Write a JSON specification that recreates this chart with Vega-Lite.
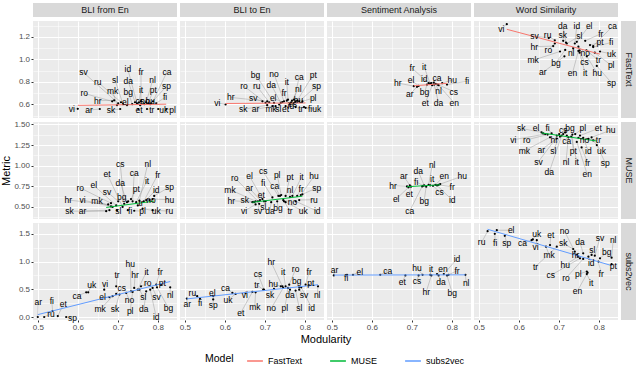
{
"$schema":"https://vega.github.io/schema/vega-lite/v6.json",
"padding":{"left":0,"top":3,"right":1,"bottom":1},
"background":"white",
"config":{
"font":"Liberation Sans",
"view":{"fill":"#ebebeb","stroke":null},
"axis":{"labelColor":"#4d4d4d","labelFontSize":8,"tickColor":"#333333","tickSize":2,"domain":false,"gridColor":"white","titleFontWeight":"normal","titleFontSize":11,"titleColor":"black","labelPadding":1.5,"titlePadding":2},
"legend":{"direction":"horizontal","titleOrient":"left","symbolType":"stroke","symbolStrokeWidth":1.5,"symbolSize":250,"labelFontSize":9,"titleFontSize":10.5,"titleFontWeight":"normal","titleColor":"black","labelColor":"black","columnPadding":24,"titlePadding":12}
},
"datasets":{
"ft":[
{"t":"F","l":"vi","x":0.600,"y":0.562,"lx":0.585,"ly":0.557},
{"t":"F","l":"ar","x":0.655,"y":0.560,"lx":0.628,"ly":0.550},
{"t":"F","l":"sk","x":0.706,"y":0.560,"lx":0.683,"ly":0.551},
{"t":"F","l":"hr","x":0.691,"y":0.637,"lx":0.650,"ly":0.634},
{"t":"F","l":"ro","x":0.686,"y":0.628,"lx":0.616,"ly":0.699},
{"t":"F","l":"sv","x":0.701,"y":0.611,"lx":0.614,"ly":0.885},
{"t":"F","l":"ru","x":0.708,"y":0.620,"lx":0.650,"ly":0.800},
{"t":"F","l":"mk","x":0.698,"y":0.594,"lx":0.687,"ly":0.720},
{"t":"F","l":"sl","x":0.713,"y":0.603,"lx":0.693,"ly":0.819},
{"t":"F","l":"el","x":0.723,"y":0.594,"lx":0.719,"ly":0.620},
{"t":"F","l":"bg","x":0.736,"y":0.603,"lx":0.726,"ly":0.714},
{"t":"F","l":"da","x":0.743,"y":0.620,"lx":0.726,"ly":0.808},
{"t":"F","l":"id","x":0.748,"y":0.611,"lx":0.725,"ly":0.914},
{"t":"F","l":"it","x":0.753,"y":0.620,"lx":0.758,"ly":0.729},
{"t":"F","l":"fr","x":0.758,"y":0.628,"lx":0.758,"ly":0.885},
{"t":"F","l":"et","x":0.751,"y":0.560,"lx":0.753,"ly":0.547},
{"t":"F","l":"cs","x":0.756,"y":0.594,"lx":0.755,"ly":0.634},
{"t":"F","l":"no","x":0.766,"y":0.603,"lx":0.768,"ly":0.634},
{"t":"F","l":"nl","x":0.771,"y":0.620,"lx":0.787,"ly":0.814},
{"t":"F","l":"pt","x":0.776,"y":0.611,"lx":0.789,"ly":0.729},
{"t":"F","l":"hu","x":0.781,"y":0.603,"lx":0.781,"ly":0.634},
{"t":"F","l":"tr","x":0.773,"y":0.560,"lx":0.785,"ly":0.551},
{"t":"F","l":"fi","x":0.796,"y":0.611,"lx":0.818,"ly":0.663},
{"t":"F","l":"ca","x":0.788,"y":0.628,"lx":0.823,"ly":0.891},
{"t":"F","l":"sp","x":0.783,"y":0.611,"lx":0.822,"ly":0.763},
{"t":"F","l":"uk","x":0.801,"y":0.560,"lx":0.815,"ly":0.551},
{"t":"F","l":"pl","x":0.821,"y":0.560,"lx":0.837,"ly":0.551},
{"t":"T","l":"vi","x":0.602,"y":0.600,"lx":0.581,"ly":0.614},
{"t":"T","l":"hr","x":0.706,"y":0.628,"lx":0.615,"ly":0.663},
{"t":"T","l":"sv","x":0.694,"y":0.628,"lx":0.671,"ly":0.657},
{"t":"T","l":"ro","x":0.702,"y":0.614,"lx":0.648,"ly":0.763},
{"t":"T","l":"ru","x":0.711,"y":0.620,"lx":0.680,"ly":0.763},
{"t":"T","l":"bg","x":0.723,"y":0.614,"lx":0.677,"ly":0.866},
{"t":"T","l":"sk","x":0.706,"y":0.594,"lx":0.646,"ly":0.557},
{"t":"T","l":"ar","x":0.719,"y":0.585,"lx":0.677,"ly":0.557},
{"t":"T","l":"mk","x":0.727,"y":0.585,"lx":0.716,"ly":0.557},
{"t":"T","l":"sl","x":0.736,"y":0.600,"lx":0.734,"ly":0.557},
{"t":"T","l":"da","x":0.740,"y":0.614,"lx":0.716,"ly":0.777},
{"t":"T","l":"el","x":0.744,"y":0.622,"lx":0.721,"ly":0.657},
{"t":"T","l":"no","x":0.748,"y":0.628,"lx":0.723,"ly":0.871},
{"t":"T","l":"et","x":0.752,"y":0.585,"lx":0.752,"ly":0.557},
{"t":"T","l":"fr","x":0.755,"y":0.634,"lx":0.748,"ly":0.699},
{"t":"T","l":"it","x":0.758,"y":0.643,"lx":0.755,"ly":0.800},
{"t":"T","l":"id","x":0.763,"y":0.605,"lx":0.765,"ly":0.585},
{"t":"T","l":"cs","x":0.766,"y":0.620,"lx":0.770,"ly":0.600},
{"t":"T","l":"nl","x":0.768,"y":0.634,"lx":0.784,"ly":0.737},
{"t":"T","l":"ca","x":0.773,"y":0.643,"lx":0.786,"ly":0.843},
{"t":"T","l":"hu","x":0.777,"y":0.628,"lx":0.784,"ly":0.637},
{"t":"T","l":"pt","x":0.781,"y":0.634,"lx":0.821,"ly":0.866},
{"t":"T","l":"sp","x":0.786,"y":0.628,"lx":0.829,"ly":0.763},
{"t":"T","l":"tr","x":0.777,"y":0.577,"lx":0.790,"ly":0.557},
{"t":"T","l":"pl","x":0.794,"y":0.628,"lx":0.821,"ly":0.657},
{"t":"T","l":"fi","x":0.798,"y":0.577,"lx":0.813,"ly":0.557},
{"t":"T","l":"uk","x":0.802,"y":0.571,"lx":0.830,"ly":0.557},
{"t":"S","l":"hr","x":0.705,"y":0.763,"lx":0.665,"ly":0.791},
{"t":"S","l":"ar","x":0.713,"y":0.757,"lx":0.695,"ly":0.691},
{"t":"S","l":"el","x":0.717,"y":0.765,"lx":0.698,"ly":0.819},
{"t":"S","l":"bg","x":0.738,"y":0.777,"lx":0.732,"ly":0.708},
{"t":"S","l":"fr","x":0.742,"y":0.789,"lx":0.701,"ly":0.922},
{"t":"S","l":"it","x":0.746,"y":0.785,"lx":0.731,"ly":0.934},
{"t":"S","l":"id","x":0.749,"y":0.791,"lx":0.731,"ly":0.823},
{"t":"S","l":"et","x":0.751,"y":0.771,"lx":0.734,"ly":0.614},
{"t":"S","l":"ca","x":0.755,"y":0.794,"lx":0.763,"ly":0.837},
{"t":"S","l":"da","x":0.756,"y":0.777,"lx":0.767,"ly":0.614},
{"t":"S","l":"nl","x":0.760,"y":0.783,"lx":0.767,"ly":0.720},
{"t":"S","l":"cs","x":0.765,"y":0.777,"lx":0.805,"ly":0.714},
{"t":"S","l":"en","x":0.767,"y":0.771,"lx":0.806,"ly":0.614},
{"t":"S","l":"hu","x":0.776,"y":0.789,"lx":0.801,"ly":0.819},
{"t":"S","l":"fi","x":0.788,"y":0.777,"lx":0.838,"ly":0.806},
{"t":"W","l":"vi","x":0.570,"y":1.314,"lx":0.556,"ly":1.271},
{"t":"W","l":"sv","x":0.675,"y":1.190,"lx":0.639,"ly":1.208},
{"t":"W","l":"ru","x":0.690,"y":1.170,"lx":0.672,"ly":1.214},
{"t":"W","l":"hr","x":0.686,"y":1.119,"lx":0.639,"ly":1.114},
{"t":"W","l":"ro","x":0.690,"y":1.142,"lx":0.674,"ly":1.085},
{"t":"W","l":"sk","x":0.711,"y":1.166,"lx":0.710,"ly":1.222},
{"t":"W","l":"da","x":0.718,"y":1.150,"lx":0.710,"ly":1.299},
{"t":"W","l":"sl","x":0.720,"y":1.142,"lx":0.751,"ly":1.205},
{"t":"W","l":"mk","x":0.703,"y":1.071,"lx":0.636,"ly":0.994},
{"t":"W","l":"bg","x":0.716,"y":1.085,"lx":0.693,"ly":0.971},
{"t":"W","l":"ar","x":0.714,"y":1.028,"lx":0.660,"ly":0.885},
{"t":"W","l":"id","x":0.740,"y":1.142,"lx":0.745,"ly":1.299},
{"t":"W","l":"el","x":0.745,"y":1.157,"lx":0.776,"ly":1.299},
{"t":"W","l":"nl","x":0.736,"y":1.100,"lx":0.731,"ly":1.057},
{"t":"W","l":"no","x":0.749,"y":1.114,"lx":0.766,"ly":1.057},
{"t":"W","l":"cs","x":0.752,"y":1.080,"lx":0.764,"ly":0.977},
{"t":"W","l":"en","x":0.749,"y":1.076,"lx":0.734,"ly":0.877},
{"t":"W","l":"it","x":0.752,"y":1.060,"lx":0.766,"ly":0.877},
{"t":"W","l":"fr","x":0.766,"y":1.166,"lx":0.805,"ly":1.228},
{"t":"W","l":"pt","x":0.778,"y":1.128,"lx":0.803,"ly":1.151},
{"t":"W","l":"tr","x":0.769,"y":1.080,"lx":0.799,"ly":0.994},
{"t":"W","l":"hu","x":0.770,"y":1.028,"lx":0.796,"ly":0.877},
{"t":"W","l":"ca","x":0.786,"y":1.119,"lx":0.834,"ly":1.294},
{"t":"W","l":"fi","x":0.786,"y":1.110,"lx":0.831,"ly":1.151},
{"t":"W","l":"uk","x":0.803,"y":1.071,"lx":0.832,"ly":1.048},
{"t":"W","l":"pl","x":0.790,"y":1.060,"lx":0.831,"ly":0.948},
{"t":"W","l":"sp","x":0.795,"y":0.943,"lx":0.832,"ly":0.791}
],
"mu":[
{"t":"F","l":"sk","x":0.671,"y":0.449,"lx":0.579,"ly":0.449},
{"t":"F","l":"ar","x":0.679,"y":0.461,"lx":0.612,"ly":0.449},
{"t":"F","l":"hr","x":0.676,"y":0.530,"lx":0.576,"ly":0.584},
{"t":"F","l":"vi","x":0.683,"y":0.507,"lx":0.612,"ly":0.584},
{"t":"F","l":"mk","x":0.687,"y":0.500,"lx":0.648,"ly":0.569},
{"t":"F","l":"ro","x":0.683,"y":0.546,"lx":0.606,"ly":0.731},
{"t":"F","l":"el","x":0.696,"y":0.518,"lx":0.640,"ly":0.761},
{"t":"F","l":"sv","x":0.701,"y":0.569,"lx":0.673,"ly":0.685},
{"t":"F","l":"sl","x":0.698,"y":0.461,"lx":0.701,"ly":0.449},
{"t":"F","l":"cs","x":0.716,"y":0.538,"lx":0.706,"ly":1.026},
{"t":"F","l":"et","x":0.712,"y":0.500,"lx":0.673,"ly":0.904},
{"t":"F","l":"da","x":0.723,"y":0.558,"lx":0.706,"ly":0.795},
{"t":"F","l":"bg","x":0.726,"y":0.569,"lx":0.710,"ly":0.622},
{"t":"F","l":"fi","x":0.725,"y":0.461,"lx":0.731,"ly":0.449},
{"t":"F","l":"pt","x":0.733,"y":0.596,"lx":0.746,"ly":0.719},
{"t":"F","l":"ca","x":0.737,"y":0.569,"lx":0.741,"ly":0.911},
{"t":"F","l":"pl","x":0.741,"y":0.454,"lx":0.762,"ly":0.449},
{"t":"F","l":"it","x":0.746,"y":0.558,"lx":0.773,"ly":0.815},
{"t":"F","l":"tr","x":0.750,"y":0.518,"lx":0.758,"ly":0.546},
{"t":"F","l":"nl","x":0.754,"y":0.577,"lx":0.775,"ly":1.026},
{"t":"F","l":"uk","x":0.762,"y":0.480,"lx":0.796,"ly":0.449},
{"t":"F","l":"fr","x":0.765,"y":0.569,"lx":0.800,"ly":0.892},
{"t":"F","l":"id","x":0.771,"y":0.584,"lx":0.796,"ly":0.711},
{"t":"F","l":"no","x":0.779,"y":0.584,"lx":0.783,"ly":0.584},
{"t":"F","l":"hu","x":0.787,"y":0.596,"lx":0.829,"ly":0.588},
{"t":"F","l":"sp","x":0.791,"y":0.634,"lx":0.829,"ly":0.742},
{"t":"F","l":"ru","x":0.787,"y":0.461,"lx":0.829,"ly":0.449},
{"t":"T","l":"hr","x":0.669,"y":0.558,"lx":0.616,"ly":0.577},
{"t":"T","l":"sk","x":0.673,"y":0.558,"lx":0.650,"ly":0.588},
{"t":"T","l":"mk","x":0.677,"y":0.569,"lx":0.613,"ly":0.711},
{"t":"T","l":"vi","x":0.677,"y":0.530,"lx":0.648,"ly":0.449},
{"t":"T","l":"sv","x":0.686,"y":0.538,"lx":0.683,"ly":0.449},
{"t":"T","l":"ro","x":0.683,"y":0.569,"lx":0.625,"ly":0.853},
{"t":"T","l":"ar","x":0.688,"y":0.584,"lx":0.661,"ly":0.731},
{"t":"T","l":"el","x":0.694,"y":0.596,"lx":0.662,"ly":0.873},
{"t":"T","l":"et","x":0.698,"y":0.569,"lx":0.691,"ly":0.645},
{"t":"T","l":"sl","x":0.702,"y":0.569,"lx":0.696,"ly":0.500},
{"t":"T","l":"da","x":0.716,"y":0.558,"lx":0.713,"ly":0.454},
{"t":"T","l":"fi","x":0.719,"y":0.615,"lx":0.696,"ly":0.795},
{"t":"T","l":"bg","x":0.731,"y":0.569,"lx":0.733,"ly":0.488},
{"t":"T","l":"cs","x":0.734,"y":0.634,"lx":0.696,"ly":0.930},
{"t":"T","l":"ca","x":0.738,"y":0.634,"lx":0.725,"ly":0.749},
{"t":"T","l":"pl","x":0.741,"y":0.645,"lx":0.731,"ly":0.892},
{"t":"T","l":"no","x":0.746,"y":0.584,"lx":0.769,"ly":0.558},
{"t":"T","l":"tr","x":0.748,"y":0.569,"lx":0.763,"ly":0.449},
{"t":"T","l":"uk","x":0.752,"y":0.558,"lx":0.796,"ly":0.449},
{"t":"T","l":"pt","x":0.752,"y":0.634,"lx":0.763,"ly":0.865},
{"t":"T","l":"nl","x":0.763,"y":0.622,"lx":0.763,"ly":0.700},
{"t":"T","l":"it","x":0.769,"y":0.634,"lx":0.792,"ly":0.865},
{"t":"T","l":"fr","x":0.781,"y":0.634,"lx":0.791,"ly":0.719},
{"t":"T","l":"id","x":0.777,"y":0.569,"lx":0.831,"ly":0.449},
{"t":"T","l":"ru","x":0.786,"y":0.584,"lx":0.823,"ly":0.588},
{"t":"T","l":"hu","x":0.790,"y":0.645,"lx":0.823,"ly":0.873},
{"t":"T","l":"sp","x":0.794,"y":0.653,"lx":0.830,"ly":0.731},
{"t":"S","l":"hr","x":0.688,"y":0.749,"lx":0.653,"ly":0.757},
{"t":"S","l":"el","x":0.692,"y":0.738,"lx":0.661,"ly":0.596},
{"t":"S","l":"ar","x":0.695,"y":0.761,"lx":0.680,"ly":0.873},
{"t":"S","l":"et","x":0.698,"y":0.746,"lx":0.694,"ly":0.661},
{"t":"S","l":"ca","x":0.726,"y":0.749,"lx":0.695,"ly":0.454},
{"t":"S","l":"fi","x":0.728,"y":0.757,"lx":0.711,"ly":0.807},
{"t":"S","l":"da","x":0.731,"y":0.761,"lx":0.716,"ly":0.934},
{"t":"S","l":"bg","x":0.736,"y":0.746,"lx":0.731,"ly":0.577},
{"t":"S","l":"nl","x":0.742,"y":0.769,"lx":0.751,"ly":1.008},
{"t":"S","l":"it","x":0.746,"y":0.761,"lx":0.751,"ly":0.834},
{"t":"S","l":"cs","x":0.753,"y":0.757,"lx":0.769,"ly":0.685},
{"t":"S","l":"en","x":0.759,"y":0.769,"lx":0.781,"ly":0.873},
{"t":"S","l":"id","x":0.763,"y":0.761,"lx":0.801,"ly":0.584},
{"t":"S","l":"fr","x":0.767,"y":0.769,"lx":0.801,"ly":0.742},
{"t":"S","l":"hu","x":0.771,"y":0.777,"lx":0.826,"ly":0.873},
{"t":"W","l":"sk","x":0.657,"y":1.403,"lx":0.606,"ly":1.453},
{"t":"W","l":"el","x":0.661,"y":1.392,"lx":0.643,"ly":1.453},
{"t":"W","l":"vi","x":0.666,"y":1.384,"lx":0.586,"ly":1.314},
{"t":"W","l":"ro","x":0.672,"y":1.377,"lx":0.620,"ly":1.314},
{"t":"W","l":"fi","x":0.682,"y":1.392,"lx":0.672,"ly":1.453},
{"t":"W","l":"mk","x":0.678,"y":1.345,"lx":0.614,"ly":1.180},
{"t":"W","l":"hr","x":0.695,"y":1.365,"lx":0.689,"ly":1.314},
{"t":"W","l":"ar","x":0.695,"y":1.330,"lx":0.656,"ly":1.192},
{"t":"W","l":"sv","x":0.701,"y":1.384,"lx":0.649,"ly":1.049},
{"t":"W","l":"sl","x":0.703,"y":1.354,"lx":0.686,"ly":1.184},
{"t":"W","l":"da","x":0.707,"y":1.365,"lx":0.676,"ly":0.922},
{"t":"W","l":"bg","x":0.711,"y":1.384,"lx":0.728,"ly":1.461},
{"t":"W","l":"cs","x":0.716,"y":1.403,"lx":0.711,"ly":1.430},
{"t":"W","l":"ca","x":0.720,"y":1.365,"lx":0.720,"ly":1.299},
{"t":"W","l":"nl","x":0.724,"y":1.345,"lx":0.718,"ly":1.046},
{"t":"W","l":"it","x":0.731,"y":1.354,"lx":0.745,"ly":1.046},
{"t":"W","l":"pt","x":0.734,"y":1.377,"lx":0.736,"ly":1.180},
{"t":"W","l":"pl","x":0.741,"y":1.384,"lx":0.760,"ly":1.453},
{"t":"W","l":"en","x":0.745,"y":1.288,"lx":0.771,"ly":0.896},
{"t":"W","l":"et","x":0.753,"y":1.365,"lx":0.799,"ly":1.453},
{"t":"W","l":"no","x":0.749,"y":1.338,"lx":0.764,"ly":1.314},
{"t":"W","l":"id","x":0.761,"y":1.338,"lx":0.774,"ly":1.180},
{"t":"W","l":"fr","x":0.757,"y":1.222,"lx":0.772,"ly":1.038},
{"t":"W","l":"tr","x":0.774,"y":1.326,"lx":0.799,"ly":1.314},
{"t":"W","l":"hu","x":0.782,"y":1.345,"lx":0.830,"ly":1.430},
{"t":"W","l":"uk","x":0.786,"y":1.307,"lx":0.807,"ly":1.180},
{"t":"W","l":"sp","x":0.795,"y":1.250,"lx":0.816,"ly":1.038}
],
"sv":[
{"t":"F","l":"ar","x":0.500,"y":0.000,"lx":0.501,"ly":0.274},
{"t":"F","l":"ru","x":0.516,"y":0.000,"lx":0.533,"ly":0.059},
{"t":"F","l":"fi","x":0.537,"y":0.107,"lx":0.535,"ly":0.286},
{"t":"F","l":"et","x":0.550,"y":0.018,"lx":0.564,"ly":0.226},
{"t":"F","l":"sp","x":0.571,"y":0.000,"lx":0.587,"ly":-0.013},
{"t":"F","l":"ca","x":0.621,"y":0.446,"lx":0.598,"ly":0.375},
{"t":"F","l":"uk","x":0.626,"y":0.446,"lx":0.635,"ly":0.583},
{"t":"F","l":"vi","x":0.666,"y":0.494,"lx":0.668,"ly":0.595},
{"t":"F","l":"el","x":0.679,"y":0.357,"lx":0.662,"ly":0.357},
{"t":"F","l":"mk","x":0.687,"y":0.375,"lx":0.656,"ly":0.137},
{"t":"F","l":"tr","x":0.696,"y":0.554,"lx":0.698,"ly":0.762},
{"t":"F","l":"cs","x":0.696,"y":0.417,"lx":0.710,"ly":0.524},
{"t":"F","l":"sk","x":0.704,"y":0.405,"lx":0.693,"ly":0.137},
{"t":"F","l":"no","x":0.721,"y":0.435,"lx":0.729,"ly":0.304},
{"t":"F","l":"hu","x":0.733,"y":0.464,"lx":0.731,"ly":0.952},
{"t":"F","l":"pl","x":0.737,"y":0.452,"lx":0.731,"ly":0.107},
{"t":"F","l":"hr","x":0.741,"y":0.524,"lx":0.743,"ly":0.750},
{"t":"F","l":"it","x":0.750,"y":0.494,"lx":0.772,"ly":0.821},
{"t":"F","l":"ro","x":0.758,"y":0.554,"lx":0.775,"ly":0.613},
{"t":"F","l":"sl","x":0.754,"y":0.494,"lx":0.764,"ly":0.363},
{"t":"F","l":"da","x":0.771,"y":0.464,"lx":0.765,"ly":0.137},
{"t":"F","l":"id","x":0.781,"y":0.494,"lx":0.796,"ly":0.000},
{"t":"F","l":"sv","x":0.787,"y":0.524,"lx":0.797,"ly":0.363},
{"t":"F","l":"fr","x":0.796,"y":0.583,"lx":0.806,"ly":0.821},
{"t":"F","l":"bg","x":0.798,"y":0.536,"lx":0.827,"ly":0.155},
{"t":"F","l":"pt","x":0.808,"y":0.583,"lx":0.811,"ly":0.613},
{"t":"F","l":"nl","x":0.831,"y":0.536,"lx":0.831,"ly":0.393},
{"t":"T","l":"ar","x":0.505,"y":0.333,"lx":0.506,"ly":0.226},
{"t":"T","l":"fi","x":0.538,"y":0.333,"lx":0.538,"ly":0.256},
{"t":"T","l":"ru","x":0.531,"y":0.375,"lx":0.519,"ly":0.435},
{"t":"T","l":"el","x":0.571,"y":0.375,"lx":0.569,"ly":0.435},
{"t":"T","l":"sp","x":0.571,"y":0.316,"lx":0.571,"ly":0.214},
{"t":"T","l":"ca","x":0.619,"y":0.435,"lx":0.602,"ly":0.524},
{"t":"T","l":"uk","x":0.627,"y":0.417,"lx":0.608,"ly":0.304},
{"t":"T","l":"vi","x":0.652,"y":0.435,"lx":0.650,"ly":0.393},
{"t":"T","l":"et","x":0.669,"y":0.452,"lx":0.640,"ly":0.077},
{"t":"T","l":"mk","x":0.677,"y":0.446,"lx":0.675,"ly":0.184},
{"t":"T","l":"tr","x":0.696,"y":0.494,"lx":0.680,"ly":0.583},
{"t":"T","l":"cs","x":0.698,"y":0.494,"lx":0.683,"ly":0.774},
{"t":"T","l":"sk","x":0.723,"y":0.506,"lx":0.713,"ly":0.393},
{"t":"T","l":"hu","x":0.740,"y":0.554,"lx":0.721,"ly":0.601},
{"t":"T","l":"hr","x":0.744,"y":0.554,"lx":0.716,"ly":0.988},
{"t":"T","l":"no","x":0.746,"y":0.524,"lx":0.716,"ly":0.155},
{"t":"T","l":"it","x":0.752,"y":0.554,"lx":0.746,"ly":0.821},
{"t":"T","l":"pl","x":0.758,"y":0.524,"lx":0.750,"ly":0.167},
{"t":"T","l":"da","x":0.763,"y":0.494,"lx":0.763,"ly":0.393},
{"t":"T","l":"ro","x":0.761,"y":0.583,"lx":0.777,"ly":0.863},
{"t":"T","l":"sl","x":0.777,"y":0.476,"lx":0.786,"ly":0.167},
{"t":"T","l":"bg","x":0.786,"y":0.536,"lx":0.780,"ly":0.655},
{"t":"T","l":"id","x":0.791,"y":0.536,"lx":0.817,"ly":0.167},
{"t":"T","l":"sv","x":0.786,"y":0.494,"lx":0.798,"ly":0.393},
{"t":"T","l":"fr","x":0.802,"y":0.583,"lx":0.811,"ly":0.821},
{"t":"T","l":"pt","x":0.810,"y":0.571,"lx":0.815,"ly":0.613},
{"t":"T","l":"nl","x":0.833,"y":0.554,"lx":0.831,"ly":0.393},
{"t":"S","l":"ar","x":0.505,"y":0.750,"lx":0.507,"ly":0.852},
{"t":"S","l":"fi","x":0.538,"y":0.762,"lx":0.536,"ly":0.700},
{"t":"S","l":"el","x":0.553,"y":0.762,"lx":0.570,"ly":0.821},
{"t":"S","l":"ca","x":0.621,"y":0.762,"lx":0.640,"ly":0.833},
{"t":"S","l":"et","x":0.684,"y":0.750,"lx":0.676,"ly":0.631},
{"t":"S","l":"cs","x":0.717,"y":0.750,"lx":0.713,"ly":0.655},
{"t":"S","l":"hu","x":0.727,"y":0.762,"lx":0.713,"ly":0.881},
{"t":"S","l":"it","x":0.746,"y":0.762,"lx":0.748,"ly":0.869},
{"t":"S","l":"hr","x":0.749,"y":0.750,"lx":0.736,"ly":0.452},
{"t":"S","l":"en","x":0.763,"y":0.774,"lx":0.778,"ly":0.869},
{"t":"S","l":"da","x":0.767,"y":0.750,"lx":0.773,"ly":0.631},
{"t":"S","l":"id","x":0.780,"y":0.774,"lx":0.813,"ly":1.048},
{"t":"S","l":"bg","x":0.788,"y":0.750,"lx":0.801,"ly":0.435},
{"t":"S","l":"fr","x":0.792,"y":0.762,"lx":0.813,"ly":0.833},
{"t":"S","l":"nl","x":0.834,"y":0.762,"lx":0.836,"ly":0.613},
{"t":"W","l":"ru","x":0.522,"y":1.548,"lx":0.507,"ly":1.345},
{"t":"W","l":"el","x":0.545,"y":1.566,"lx":0.581,"ly":1.566},
{"t":"W","l":"fi","x":0.540,"y":1.500,"lx":0.541,"ly":1.327},
{"t":"W","l":"sp","x":0.565,"y":1.464,"lx":0.570,"ly":1.327},
{"t":"W","l":"ca","x":0.632,"y":1.387,"lx":0.609,"ly":1.327},
{"t":"W","l":"uk","x":0.635,"y":1.400,"lx":0.645,"ly":1.495},
{"t":"W","l":"vi","x":0.645,"y":1.387,"lx":0.642,"ly":1.268},
{"t":"W","l":"et","x":0.678,"y":1.298,"lx":0.680,"ly":1.477},
{"t":"W","l":"mk","x":0.668,"y":1.268,"lx":0.676,"ly":1.120},
{"t":"W","l":"tr","x":0.695,"y":1.268,"lx":0.642,"ly":0.911},
{"t":"W","l":"no","x":0.740,"y":1.179,"lx":0.714,"ly":1.554},
{"t":"W","l":"sk","x":0.736,"y":1.227,"lx":0.711,"ly":1.327},
{"t":"W","l":"da","x":0.761,"y":1.148,"lx":0.753,"ly":1.345},
{"t":"W","l":"hr","x":0.745,"y":1.120,"lx":0.742,"ly":1.120},
{"t":"W","l":"hu","x":0.749,"y":1.089,"lx":0.716,"ly":0.941},
{"t":"W","l":"cs","x":0.753,"y":1.059,"lx":0.680,"ly":0.750},
{"t":"W","l":"ro","x":0.761,"y":1.048,"lx":0.718,"ly":0.702},
{"t":"W","l":"pl","x":0.770,"y":0.821,"lx":0.749,"ly":0.774},
{"t":"W","l":"it","x":0.770,"y":0.774,"lx":0.781,"ly":0.613},
{"t":"W","l":"en","x":0.772,"y":0.800,"lx":0.747,"ly":0.476},
{"t":"W","l":"id","x":0.774,"y":1.089,"lx":0.781,"ly":0.982},
{"t":"W","l":"sl","x":0.782,"y":1.120,"lx":0.784,"ly":1.209},
{"t":"W","l":"sv","x":0.790,"y":1.107,"lx":0.803,"ly":1.429},
{"t":"W","l":"fr","x":0.799,"y":1.000,"lx":0.806,"ly":0.774},
{"t":"W","l":"bg","x":0.803,"y":1.059,"lx":0.820,"ly":1.166},
{"t":"W","l":"nl","x":0.832,"y":1.071,"lx":0.836,"ly":1.387},
{"t":"W","l":"pt","x":0.832,"y":0.952,"lx":0.836,"ly":0.929}
]
},
"columns":5,
"spacing":{"row":4,"column":3},
"bounds":"flush",
"resolve":{"scale":{"x":"independent","y":"independent","color":"shared"}},
"concat":[
{"width":144,"height":14,"view":{"fill":"#d9d9d9","stroke":null},"data":{"values":[{"s":"BLI from En"}]},"mark":{"type":"text","fontSize":9,"color":"#1a1a1a"},"encoding":{"text":{"field":"s"}}},
{"width":144,"height":14,"view":{"fill":"#d9d9d9","stroke":null},"data":{"values":[{"s":"BLI to En"}]},"mark":{"type":"text","fontSize":9,"color":"#1a1a1a"},"encoding":{"text":{"field":"s"}}},
{"width":144,"height":14,"view":{"fill":"#d9d9d9","stroke":null},"data":{"values":[{"s":"Sentiment Analysis"}]},"mark":{"type":"text","fontSize":9,"color":"#1a1a1a"},"encoding":{"text":{"field":"s"}}},
{"width":144,"height":14,"view":{"fill":"#d9d9d9","stroke":null},"data":{"values":[{"s":"Word Similarity"}]},"mark":{"type":"text","fontSize":9,"color":"#1a1a1a"},"encoding":{"text":{"field":"s"}}},
{"width":15,"height":14,"view":{"fill":"white","stroke":null},"data":{"values":[{"s":""}]},"mark":{"type":"text"},"encoding":{"text":{"field":"s"}}},

{"data":{"name":"ft"},"transform":[{"filter":"datum.t=='F'"}],"width":144,"height":97,
"encoding":{"x":{"field":"x","type":"quantitative","title":null,"scale":{"domain":[0.488,0.848],"nice":false,"zero":false},"axis":{"values":[0.5,0.55,0.6,0.65,0.7,0.75,0.8],"labels":false,"ticks":false,"gridWidth":{"condition":{"test":"round(datum.value*100)%10 != 0","value":0.5},"value":1}}},
"y":{"field":"y","type":"quantitative","title":null,"scale":{"domain":[0.48,1.342],"nice":false,"zero":false},"axis":{"values":[0.5,0.6,0.7,0.8,0.9,1.0,1.1,1.2,1.3],"labelExpr":"round(datum.value*10)%2 != 0 ? '' : format(datum.value,'.1f')","tickOpacity":{"condition":{"test":"round(datum.value*10)%2 != 0","value":0},"value":1},"gridWidth":{"condition":{"test":"round(datum.value*10)%2 != 0","value":0.5},"value":1}}}},
"layer":[
{"mark":{"type":"rule","color":"#8c8c8c","strokeWidth":0.4},"encoding":{"x2":{"field":"lx"},"y2":{"field":"ly"}}},
{"mark":{"type":"point","filled":true,"size":5,"color":"black","opacity":1}},
{"transform":[{"regression":"y","on":"x"}],"mark":{"type":"line","strokeWidth":1},"encoding":{"color":{"datum":"FastText","type":"nominal","title":"Model","scale":{"domain":["FastText","MUSE","subs2vec"],"range":["#F8766D","#00BA38","#619CFF"]},"legend":{"orient":"none","legendX":172,"legendY":349}}}},
{"mark":{"type":"text","fontSize":8.5,"color":"black"},"encoding":{"x":{"field":"lx","type":"quantitative","title":null},"y":{"field":"ly","type":"quantitative","title":null},"text":{"field":"l"}}}]},
{"data":{"name":"ft"},"transform":[{"filter":"datum.t=='T'"}],"width":144,"height":97,
"encoding":{"x":{"field":"x","type":"quantitative","title":null,"scale":{"domain":[0.488,0.848],"nice":false,"zero":false},"axis":{"values":[0.5,0.55,0.6,0.65,0.7,0.75,0.8],"labels":false,"ticks":false,"gridWidth":{"condition":{"test":"round(datum.value*100)%10 != 0","value":0.5},"value":1}}},
"y":{"field":"y","type":"quantitative","title":null,"scale":{"domain":[0.48,1.342],"nice":false,"zero":false},"axis":{"values":[0.5,0.6,0.7,0.8,0.9,1.0,1.1,1.2,1.3],"labels":false,"ticks":false,"gridWidth":{"condition":{"test":"round(datum.value*10)%2 != 0","value":0.5},"value":1}}}},
"layer":[
{"mark":{"type":"rule","color":"#8c8c8c","strokeWidth":0.4},"encoding":{"x2":{"field":"lx"},"y2":{"field":"ly"}}},
{"mark":{"type":"point","filled":true,"size":5,"color":"black","opacity":1}},
{"transform":[{"regression":"y","on":"x"}],"mark":{"type":"line","strokeWidth":1},"encoding":{"color":{"datum":"FastText","type":"nominal","title":"Model","scale":{"domain":["FastText","MUSE","subs2vec"],"range":["#F8766D","#00BA38","#619CFF"]},"legend":{"orient":"none","legendX":172,"legendY":349}}}},
{"mark":{"type":"text","fontSize":8.5,"color":"black"},"encoding":{"x":{"field":"lx","type":"quantitative","title":null},"y":{"field":"ly","type":"quantitative","title":null},"text":{"field":"l"}}}]},
{"data":{"name":"ft"},"transform":[{"filter":"datum.t=='S'"}],"width":144,"height":97,
"encoding":{"x":{"field":"x","type":"quantitative","title":null,"scale":{"domain":[0.488,0.848],"nice":false,"zero":false},"axis":{"values":[0.5,0.55,0.6,0.65,0.7,0.75,0.8],"labels":false,"ticks":false,"gridWidth":{"condition":{"test":"round(datum.value*100)%10 != 0","value":0.5},"value":1}}},
"y":{"field":"y","type":"quantitative","title":null,"scale":{"domain":[0.48,1.342],"nice":false,"zero":false},"axis":{"values":[0.5,0.6,0.7,0.8,0.9,1.0,1.1,1.2,1.3],"labels":false,"ticks":false,"gridWidth":{"condition":{"test":"round(datum.value*10)%2 != 0","value":0.5},"value":1}}}},
"layer":[
{"mark":{"type":"rule","color":"#8c8c8c","strokeWidth":0.4},"encoding":{"x2":{"field":"lx"},"y2":{"field":"ly"}}},
{"mark":{"type":"point","filled":true,"size":5,"color":"black","opacity":1}},
{"transform":[{"regression":"y","on":"x"}],"mark":{"type":"line","strokeWidth":1},"encoding":{"color":{"datum":"FastText","type":"nominal","title":"Model","scale":{"domain":["FastText","MUSE","subs2vec"],"range":["#F8766D","#00BA38","#619CFF"]},"legend":{"orient":"none","legendX":172,"legendY":349}}}},
{"mark":{"type":"text","fontSize":8.5,"color":"black"},"encoding":{"x":{"field":"lx","type":"quantitative","title":null},"y":{"field":"ly","type":"quantitative","title":null},"text":{"field":"l"}}}]},
{"data":{"name":"ft"},"transform":[{"filter":"datum.t=='W'"}],"width":144,"height":97,
"encoding":{"x":{"field":"x","type":"quantitative","title":null,"scale":{"domain":[0.488,0.848],"nice":false,"zero":false},"axis":{"values":[0.5,0.55,0.6,0.65,0.7,0.75,0.8],"labels":false,"ticks":false,"gridWidth":{"condition":{"test":"round(datum.value*100)%10 != 0","value":0.5},"value":1}}},
"y":{"field":"y","type":"quantitative","title":null,"scale":{"domain":[0.48,1.342],"nice":false,"zero":false},"axis":{"values":[0.5,0.6,0.7,0.8,0.9,1.0,1.1,1.2,1.3],"labels":false,"ticks":false,"gridWidth":{"condition":{"test":"round(datum.value*10)%2 != 0","value":0.5},"value":1}}}},
"layer":[
{"mark":{"type":"rule","color":"#8c8c8c","strokeWidth":0.4},"encoding":{"x2":{"field":"lx"},"y2":{"field":"ly"}}},
{"mark":{"type":"point","filled":true,"size":5,"color":"black","opacity":1}},
{"transform":[{"regression":"y","on":"x"}],"mark":{"type":"line","strokeWidth":1},"encoding":{"color":{"datum":"FastText","type":"nominal","title":"Model","scale":{"domain":["FastText","MUSE","subs2vec"],"range":["#F8766D","#00BA38","#619CFF"]},"legend":{"orient":"none","legendX":172,"legendY":349}}}},
{"mark":{"type":"text","fontSize":8.5,"color":"black"},"encoding":{"x":{"field":"lx","type":"quantitative","title":null},"y":{"field":"ly","type":"quantitative","title":null},"text":{"field":"l"}}}]},
{"width":15,"height":97,"view":{"fill":"#d9d9d9","stroke":null},"data":{"values":[{"s":"FastText"}]},"mark":{"type":"text","angle":90,"fontSize":9,"color":"#1a1a1a"},"encoding":{"text":{"field":"s"}}},

{"data":{"name":"mu"},"transform":[{"filter":"datum.t=='F'"}],"width":144,"height":97,
"encoding":{"x":{"field":"x","type":"quantitative","title":null,"scale":{"domain":[0.488,0.848],"nice":false,"zero":false},"axis":{"values":[0.5,0.55,0.6,0.65,0.7,0.75,0.8],"labels":false,"ticks":false,"gridWidth":{"condition":{"test":"round(datum.value*100)%10 != 0","value":0.5},"value":1}}},
"y":{"field":"y","type":"quantitative","title":"Metric","scale":{"domain":[0.354,1.53],"nice":false,"zero":false},"axis":{"values":[0.375,0.5,0.625,0.75,0.875,1.0,1.125,1.25,1.375,1.5],"labelExpr":"round(datum.value*8)%2 != 0 ? '' : format(datum.value,'.2f')","tickOpacity":{"condition":{"test":"round(datum.value*8)%2 != 0","value":0},"value":1},"gridWidth":{"condition":{"test":"round(datum.value*8)%2 != 0","value":0.5},"value":1}}}},
"layer":[
{"mark":{"type":"rule","color":"#8c8c8c","strokeWidth":0.4},"encoding":{"x2":{"field":"lx"},"y2":{"field":"ly"}}},
{"mark":{"type":"point","filled":true,"size":5,"color":"black","opacity":1}},
{"transform":[{"regression":"y","on":"x"}],"mark":{"type":"line","strokeWidth":1},"encoding":{"color":{"datum":"MUSE","type":"nominal","title":"Model","scale":{"domain":["FastText","MUSE","subs2vec"],"range":["#F8766D","#00BA38","#619CFF"]},"legend":{"orient":"none","legendX":172,"legendY":349}}}},
{"mark":{"type":"text","fontSize":8.5,"color":"black"},"encoding":{"x":{"field":"lx","type":"quantitative","title":null},"y":{"field":"ly","type":"quantitative","title":"Metric"},"text":{"field":"l"}}}]},
{"data":{"name":"mu"},"transform":[{"filter":"datum.t=='T'"}],"width":144,"height":97,
"encoding":{"x":{"field":"x","type":"quantitative","title":null,"scale":{"domain":[0.488,0.848],"nice":false,"zero":false},"axis":{"values":[0.5,0.55,0.6,0.65,0.7,0.75,0.8],"labels":false,"ticks":false,"gridWidth":{"condition":{"test":"round(datum.value*100)%10 != 0","value":0.5},"value":1}}},
"y":{"field":"y","type":"quantitative","title":null,"scale":{"domain":[0.354,1.53],"nice":false,"zero":false},"axis":{"values":[0.375,0.5,0.625,0.75,0.875,1.0,1.125,1.25,1.375,1.5],"labels":false,"ticks":false,"gridWidth":{"condition":{"test":"round(datum.value*8)%2 != 0","value":0.5},"value":1}}}},
"layer":[
{"mark":{"type":"rule","color":"#8c8c8c","strokeWidth":0.4},"encoding":{"x2":{"field":"lx"},"y2":{"field":"ly"}}},
{"mark":{"type":"point","filled":true,"size":5,"color":"black","opacity":1}},
{"transform":[{"regression":"y","on":"x"}],"mark":{"type":"line","strokeWidth":1},"encoding":{"color":{"datum":"MUSE","type":"nominal","title":"Model","scale":{"domain":["FastText","MUSE","subs2vec"],"range":["#F8766D","#00BA38","#619CFF"]},"legend":{"orient":"none","legendX":172,"legendY":349}}}},
{"mark":{"type":"text","fontSize":8.5,"color":"black"},"encoding":{"x":{"field":"lx","type":"quantitative","title":null},"y":{"field":"ly","type":"quantitative","title":null},"text":{"field":"l"}}}]},
{"data":{"name":"mu"},"transform":[{"filter":"datum.t=='S'"}],"width":144,"height":97,
"encoding":{"x":{"field":"x","type":"quantitative","title":null,"scale":{"domain":[0.488,0.848],"nice":false,"zero":false},"axis":{"values":[0.5,0.55,0.6,0.65,0.7,0.75,0.8],"labels":false,"ticks":false,"gridWidth":{"condition":{"test":"round(datum.value*100)%10 != 0","value":0.5},"value":1}}},
"y":{"field":"y","type":"quantitative","title":null,"scale":{"domain":[0.354,1.53],"nice":false,"zero":false},"axis":{"values":[0.375,0.5,0.625,0.75,0.875,1.0,1.125,1.25,1.375,1.5],"labels":false,"ticks":false,"gridWidth":{"condition":{"test":"round(datum.value*8)%2 != 0","value":0.5},"value":1}}}},
"layer":[
{"mark":{"type":"rule","color":"#8c8c8c","strokeWidth":0.4},"encoding":{"x2":{"field":"lx"},"y2":{"field":"ly"}}},
{"mark":{"type":"point","filled":true,"size":5,"color":"black","opacity":1}},
{"transform":[{"regression":"y","on":"x"}],"mark":{"type":"line","strokeWidth":1},"encoding":{"color":{"datum":"MUSE","type":"nominal","title":"Model","scale":{"domain":["FastText","MUSE","subs2vec"],"range":["#F8766D","#00BA38","#619CFF"]},"legend":{"orient":"none","legendX":172,"legendY":349}}}},
{"mark":{"type":"text","fontSize":8.5,"color":"black"},"encoding":{"x":{"field":"lx","type":"quantitative","title":null},"y":{"field":"ly","type":"quantitative","title":null},"text":{"field":"l"}}}]},
{"data":{"name":"mu"},"transform":[{"filter":"datum.t=='W'"}],"width":144,"height":97,
"encoding":{"x":{"field":"x","type":"quantitative","title":null,"scale":{"domain":[0.488,0.848],"nice":false,"zero":false},"axis":{"values":[0.5,0.55,0.6,0.65,0.7,0.75,0.8],"labels":false,"ticks":false,"gridWidth":{"condition":{"test":"round(datum.value*100)%10 != 0","value":0.5},"value":1}}},
"y":{"field":"y","type":"quantitative","title":null,"scale":{"domain":[0.354,1.53],"nice":false,"zero":false},"axis":{"values":[0.375,0.5,0.625,0.75,0.875,1.0,1.125,1.25,1.375,1.5],"labels":false,"ticks":false,"gridWidth":{"condition":{"test":"round(datum.value*8)%2 != 0","value":0.5},"value":1}}}},
"layer":[
{"mark":{"type":"rule","color":"#8c8c8c","strokeWidth":0.4},"encoding":{"x2":{"field":"lx"},"y2":{"field":"ly"}}},
{"mark":{"type":"point","filled":true,"size":5,"color":"black","opacity":1}},
{"transform":[{"regression":"y","on":"x"}],"mark":{"type":"line","strokeWidth":1},"encoding":{"color":{"datum":"MUSE","type":"nominal","title":"Model","scale":{"domain":["FastText","MUSE","subs2vec"],"range":["#F8766D","#00BA38","#619CFF"]},"legend":{"orient":"none","legendX":172,"legendY":349}}}},
{"mark":{"type":"text","fontSize":8.5,"color":"black"},"encoding":{"x":{"field":"lx","type":"quantitative","title":null},"y":{"field":"ly","type":"quantitative","title":null},"text":{"field":"l"}}}]},
{"width":15,"height":97,"view":{"fill":"#d9d9d9","stroke":null},"data":{"values":[{"s":"MUSE"}]},"mark":{"type":"text","angle":90,"fontSize":9,"color":"#1a1a1a"},"encoding":{"text":{"field":"s"}}},

{"data":{"name":"sv"},"transform":[{"filter":"datum.t=='F'"}],"width":144,"height":97,
"encoding":{"x":{"field":"x","type":"quantitative","title":null,"scale":{"domain":[0.488,0.848],"nice":false,"zero":false},"axis":{"values":[0.5,0.55,0.6,0.65,0.7,0.75,0.8],"labelExpr":"round(datum.value*100)%10 != 0 ? '' : format(datum.value,'.1f')","tickOpacity":{"condition":{"test":"round(datum.value*100)%10 != 0","value":0},"value":1},"gridWidth":{"condition":{"test":"round(datum.value*100)%10 != 0","value":0.5},"value":1}}},
"y":{"field":"y","type":"quantitative","title":null,"scale":{"domain":[-0.054,1.696],"nice":false,"zero":false},"axis":{"values":[0,0.25,0.5,0.75,1.0,1.25,1.5],"labelExpr":"round(datum.value*4)%2 != 0 ? '' : format(datum.value,'.1f')","tickOpacity":{"condition":{"test":"round(datum.value*4)%2 != 0","value":0},"value":1},"gridWidth":{"condition":{"test":"round(datum.value*4)%2 != 0","value":0.5},"value":1}}}},
"layer":[
{"mark":{"type":"rule","color":"#8c8c8c","strokeWidth":0.4},"encoding":{"x2":{"field":"lx"},"y2":{"field":"ly"}}},
{"mark":{"type":"point","filled":true,"size":5,"color":"black","opacity":1}},
{"transform":[{"regression":"y","on":"x"}],"mark":{"type":"line","strokeWidth":1},"encoding":{"color":{"datum":"subs2vec","type":"nominal","title":"Model","scale":{"domain":["FastText","MUSE","subs2vec"],"range":["#F8766D","#00BA38","#619CFF"]},"legend":{"orient":"none","legendX":172,"legendY":349}}}},
{"mark":{"type":"text","fontSize":8.5,"color":"black"},"encoding":{"x":{"field":"lx","type":"quantitative","title":null},"y":{"field":"ly","type":"quantitative","title":null},"text":{"field":"l"}}}]},
{"data":{"name":"sv"},"transform":[{"filter":"datum.t=='T'"}],"width":144,"height":97,
"encoding":{"x":{"field":"x","type":"quantitative","title":"Modularity","scale":{"domain":[0.488,0.848],"nice":false,"zero":false},"axis":{"titleX":145.5,"values":[0.5,0.55,0.6,0.65,0.7,0.75,0.8],"labelExpr":"round(datum.value*100)%10 != 0 ? '' : format(datum.value,'.1f')","tickOpacity":{"condition":{"test":"round(datum.value*100)%10 != 0","value":0},"value":1},"gridWidth":{"condition":{"test":"round(datum.value*100)%10 != 0","value":0.5},"value":1}}},
"y":{"field":"y","type":"quantitative","title":null,"scale":{"domain":[-0.054,1.696],"nice":false,"zero":false},"axis":{"values":[0,0.25,0.5,0.75,1.0,1.25,1.5],"labels":false,"ticks":false,"gridWidth":{"condition":{"test":"round(datum.value*4)%2 != 0","value":0.5},"value":1}}}},
"layer":[
{"mark":{"type":"rule","color":"#8c8c8c","strokeWidth":0.4},"encoding":{"x2":{"field":"lx"},"y2":{"field":"ly"}}},
{"mark":{"type":"point","filled":true,"size":5,"color":"black","opacity":1}},
{"transform":[{"regression":"y","on":"x"}],"mark":{"type":"line","strokeWidth":1},"encoding":{"color":{"datum":"subs2vec","type":"nominal","title":"Model","scale":{"domain":["FastText","MUSE","subs2vec"],"range":["#F8766D","#00BA38","#619CFF"]},"legend":{"orient":"none","legendX":172,"legendY":349}}}},
{"mark":{"type":"text","fontSize":8.5,"color":"black"},"encoding":{"x":{"field":"lx","type":"quantitative","title":"Modularity"},"y":{"field":"ly","type":"quantitative","title":null},"text":{"field":"l"}}}]},
{"data":{"name":"sv"},"transform":[{"filter":"datum.t=='S'"}],"width":144,"height":97,
"encoding":{"x":{"field":"x","type":"quantitative","title":null,"scale":{"domain":[0.488,0.848],"nice":false,"zero":false},"axis":{"values":[0.5,0.55,0.6,0.65,0.7,0.75,0.8],"labelExpr":"round(datum.value*100)%10 != 0 ? '' : format(datum.value,'.1f')","tickOpacity":{"condition":{"test":"round(datum.value*100)%10 != 0","value":0},"value":1},"gridWidth":{"condition":{"test":"round(datum.value*100)%10 != 0","value":0.5},"value":1}}},
"y":{"field":"y","type":"quantitative","title":null,"scale":{"domain":[-0.054,1.696],"nice":false,"zero":false},"axis":{"values":[0,0.25,0.5,0.75,1.0,1.25,1.5],"labels":false,"ticks":false,"gridWidth":{"condition":{"test":"round(datum.value*4)%2 != 0","value":0.5},"value":1}}}},
"layer":[
{"mark":{"type":"rule","color":"#8c8c8c","strokeWidth":0.4},"encoding":{"x2":{"field":"lx"},"y2":{"field":"ly"}}},
{"mark":{"type":"point","filled":true,"size":5,"color":"black","opacity":1}},
{"transform":[{"regression":"y","on":"x"}],"mark":{"type":"line","strokeWidth":1},"encoding":{"color":{"datum":"subs2vec","type":"nominal","title":"Model","scale":{"domain":["FastText","MUSE","subs2vec"],"range":["#F8766D","#00BA38","#619CFF"]},"legend":{"orient":"none","legendX":172,"legendY":349}}}},
{"mark":{"type":"text","fontSize":8.5,"color":"black"},"encoding":{"x":{"field":"lx","type":"quantitative","title":null},"y":{"field":"ly","type":"quantitative","title":null},"text":{"field":"l"}}}]},
{"data":{"name":"sv"},"transform":[{"filter":"datum.t=='W'"}],"width":144,"height":97,
"encoding":{"x":{"field":"x","type":"quantitative","title":null,"scale":{"domain":[0.488,0.848],"nice":false,"zero":false},"axis":{"values":[0.5,0.55,0.6,0.65,0.7,0.75,0.8],"labelExpr":"round(datum.value*100)%10 != 0 ? '' : format(datum.value,'.1f')","tickOpacity":{"condition":{"test":"round(datum.value*100)%10 != 0","value":0},"value":1},"gridWidth":{"condition":{"test":"round(datum.value*100)%10 != 0","value":0.5},"value":1}}},
"y":{"field":"y","type":"quantitative","title":null,"scale":{"domain":[-0.054,1.696],"nice":false,"zero":false},"axis":{"values":[0,0.25,0.5,0.75,1.0,1.25,1.5],"labels":false,"ticks":false,"gridWidth":{"condition":{"test":"round(datum.value*4)%2 != 0","value":0.5},"value":1}}}},
"layer":[
{"mark":{"type":"rule","color":"#8c8c8c","strokeWidth":0.4},"encoding":{"x2":{"field":"lx"},"y2":{"field":"ly"}}},
{"mark":{"type":"point","filled":true,"size":5,"color":"black","opacity":1}},
{"transform":[{"regression":"y","on":"x"}],"mark":{"type":"line","strokeWidth":1},"encoding":{"color":{"datum":"subs2vec","type":"nominal","title":"Model","scale":{"domain":["FastText","MUSE","subs2vec"],"range":["#F8766D","#00BA38","#619CFF"]},"legend":{"orient":"none","legendX":172,"legendY":349}}}},
{"mark":{"type":"text","fontSize":8.5,"color":"black"},"encoding":{"x":{"field":"lx","type":"quantitative","title":null},"y":{"field":"ly","type":"quantitative","title":null},"text":{"field":"l"}}}]},
{"width":15,"height":97,"view":{"fill":"#d9d9d9","stroke":null},"data":{"values":[{"s":"subs2vec"}]},"mark":{"type":"text","angle":90,"fontSize":9,"color":"#1a1a1a"},"encoding":{"text":{"field":"s"}}}
]
}
